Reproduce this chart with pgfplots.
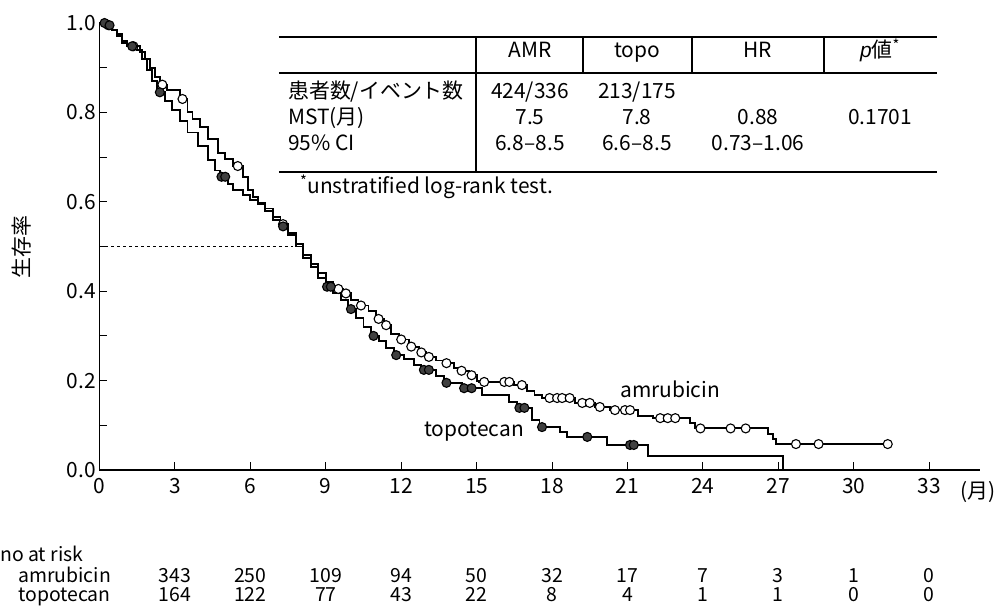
\documentclass[border=0pt]{standalone}
\usepackage{fontspec}
\setmainfont{Noto Sans CJK JP}
\newfontfamily\latinit{Liberation Sans}
\usepackage{pgfplots}
\pgfplotsset{compat=1.18}

\begin{document}
\begin{tikzpicture}[font=\fontsize{21}{24}\selectfont,
  t/.style={inner sep=0pt,text height=0.72em,text depth=0.18em},
  risk/.style={t,font=\fontsize{19.5}{22}\selectfont}]
\useasboundingbox (-99.5bp,-139bp) rectangle (897.5bp,470bp);
\begin{axis}[
  at={(0,0)}, anchor=south west,
  scale only axis, width=880bp, height=447bp,
  xmin=0, xmax=35, ymin=0, ymax=1,
  axis lines=left, axis line style={-, line width=1.3bp},
  xtick={0,3,...,33},
  ytick={0,0.2,0.4,0.6,0.8,1},
  minor ytick={0.1,0.3,0.5,0.7,0.9},
  tick align=inside, major tick length=8bp, minor tick length=8bp,
  tick style={black, line width=1bp},
  tick label style={font=\fontsize{21}{24}\selectfont},
  xticklabel style={yshift=-5bp},
  yticklabel style={/pgf/number format/.cd, fixed, fixed zerofill, precision=1},
  /pgf/number format/assume math mode=true,
  clip=false,
]
% median line
\addplot[black, dashed, line width=1bp] coordinates {(0,0.5) (7.7,0.5)};

% amrubicin
\addplot[const plot, black, line width=1.9bp] coordinates {
(0,1.0) (0.3,0.995) (0.5,0.985) (0.7,0.975) (0.9,0.96) (1.1,0.948) (1.6,0.935)
(1.8,0.92) (2.0,0.90) (2.2,0.88) (2.4,0.862) (2.7,0.85) (3.2,0.83) (3.5,0.80)
(3.7,0.785) (4.0,0.768) (4.3,0.74) (4.7,0.71) (5.0,0.695) (5.3,0.68) (5.7,0.655)
(5.9,0.627) (6.1,0.61) (6.3,0.598) (6.6,0.585) (6.9,0.565) (7.2,0.55) (7.5,0.53)
(7.8,0.505) (8.1,0.48) (8.4,0.46) (8.7,0.44) (9.0,0.42) (9.3,0.405) (9.7,0.395)
(10.0,0.38) (10.3,0.368) (10.7,0.355) (11.0,0.338) (11.3,0.324) (11.6,0.305)
(11.9,0.292) (12.3,0.276) (12.7,0.263) (13.0,0.253) (13.4,0.245) (13.7,0.239)
(14.1,0.228) (14.3,0.222) (14.7,0.212) (15.0,0.2) (15.1,0.197) (16.5,0.19)
(17.0,0.176) (17.3,0.168) (17.6,0.161) (18.9,0.15) (19.7,0.141) (20.3,0.134)
(21.4,0.121) (22.0,0.116) (23.5,0.105) (23.7,0.093) (26.6,0.08) (26.8,0.07)
(26.9,0.058) (31.35,0.058)
};
% topotecan
\addplot[const plot, black, line width=1.9bp] coordinates {
(0,1.0) (0.3,0.995) (0.5,0.985) (0.7,0.97) (0.9,0.955) (1.1,0.948) (1.5,0.94)
(1.7,0.92) (1.9,0.895) (2.1,0.87) (2.3,0.845) (2.6,0.825) (2.9,0.805) (3.2,0.78)
(3.5,0.755) (3.9,0.725) (4.3,0.694) (4.6,0.67) (4.8,0.656) (5.1,0.64) (5.3,0.627)
(5.7,0.615) (6.0,0.604) (6.3,0.595) (6.6,0.58) (6.9,0.56) (7.2,0.545) (7.5,0.525)
(7.8,0.50) (8.1,0.475) (8.4,0.455) (8.7,0.43) (9.0,0.41) (9.3,0.395) (9.6,0.38)
(9.9,0.36) (10.2,0.34) (10.5,0.32) (10.8,0.30) (11.1,0.288) (11.4,0.272)
(11.7,0.257) (12.1,0.248) (12.5,0.235) (12.8,0.224) (13.4,0.21) (13.7,0.195)
(14.4,0.183) (15.2,0.168) (16.3,0.152) (16.6,0.139) (17.2,0.112) (17.5,0.096)
(18.3,0.085) (18.6,0.074) (20.2,0.056) (21.8,0.031) (27.2,0.0)
};
% censored, amrubicin
\addplot[only marks, mark=*, mark size=4.5bp, mark options={fill=white, draw=black, line width=1.1bp}] coordinates {
(0.35,0.995) (1.35,0.948) (2.5,0.862) (3.3,0.83) (5.5,0.68) (7.3,0.55) (9.5,0.405)
(9.8,0.395) (10.4,0.368) (11.1,0.338) (11.4,0.324) (12.0,0.292) (12.4,0.276)
(12.8,0.263) (13.1,0.253) (13.8,0.239) (14.4,0.222) (14.8,0.212) (15.3,0.197)
(16.1,0.197) (16.3,0.197) (16.8,0.19) (17.9,0.161) (18.2,0.161) (18.4,0.161)
(18.7,0.161) (19.2,0.15) (19.5,0.15) (19.9,0.141) (20.5,0.134) (20.9,0.134)
(21.1,0.134) (22.3,0.116) (22.6,0.116) (22.9,0.116) (23.9,0.093) (25.1,0.093)
(25.7,0.093) (27.7,0.058) (28.6,0.058) (31.35,0.058)
};
% censored, topotecan
\addplot[only marks, mark=*, mark size=4.5bp, mark options={fill=black!75, draw=black, line width=1.1bp}] coordinates {
(0.2,1.0) (0.4,0.995) (1.3,0.948) (2.4,0.845) (4.85,0.656) (5.0,0.656) (7.3,0.545)
(9.05,0.41) (9.2,0.41) (10.0,0.36) (10.9,0.30) (11.8,0.257) (12.9,0.224)
(13.1,0.224) (13.8,0.195) (14.5,0.183) (14.8,0.183) (16.7,0.139) (16.9,0.139)
(17.6,0.096) (19.4,0.074) (21.1,0.056) (21.25,0.056)
};

% number at risk
\addplot[draw=none, nodes near coords, point meta=explicit symbolic,
  nodes near coords style={risk, anchor=center}]
  table[meta=n] {
x y n
3 -0.2461 343
6 -0.2461 250
9 -0.2461 109
12 -0.2461 94
15 -0.2461 50
18 -0.2461 32
21 -0.2461 17
24 -0.2461 7
27 -0.2461 3
30 -0.2461 1
33 -0.2461 0
3 -0.2886 164
6 -0.2886 122
9 -0.2886 77
12 -0.2886 43
15 -0.2886 22
18 -0.2886 8
21 -0.2886 4
24 -0.2886 1
27 -0.2886 1
30 -0.2886 0
33 -0.2886 0
};

\node at (axis cs:22.7,0.18) {amrubicin};
\node at (axis cs:14.9,0.085) {topotecan};
\end{axis}

\begin{scope}[x=1bp,y=1bp,shift={(-99.5bp,-139bp)}]
% axis titles
\node[rotate=90] at (22,362) {生存率};
\node at (978,117) {(月)};

% risk table labels
\node[anchor=west,risk] at (0,50) {no at risk};
\node[anchor=west,risk] at (18,29) {amrubicin};
\node[anchor=west,risk] at (18,10) {topotecan};

% summary table
\draw[line width=1.2bp] (279,572) -- (937,572);
\draw[line width=1.2bp] (279,536) -- (937,536);
\draw[line width=1.2bp] (279,437) -- (937,437);
\draw[line width=1.1bp] (476,572) -- (476,437);
\draw[line width=1.1bp] (583,572) -- (583,536);
\draw[line width=1.1bp] (692,572) -- (692,536);
\draw[line width=1.1bp] (824,572) -- (824,536);

\node[t] at (530,554) {AMR};
\node[t] at (637,554) {topo};
\node[t] at (758,554) {HR};
\node[t] at (880,554) {{\latinit\itshape p}値\textsuperscript{*}};

\node[t,anchor=west] at (288,513) {患者数/イベント数};
\node[t] at (530,513) {424/336};
\node[t] at (637,513) {213/175};

\node[t,anchor=west] at (288,487) {MST(月)};
\node[t] at (530,487) {7.5};
\node[t] at (637,487) {7.8};
\node[t] at (758,487) {0.88};
\node[t] at (880,487) {0.1701};

\node[t,anchor=west] at (288,461) {95\% CI};
\node[t] at (530,461) {6.8--8.5};
\node[t] at (637,461) {6.6--8.5};
\node[t] at (758,461) {0.73--1.06};

\node[t,anchor=west] at (300,418) {\textsuperscript{*}unstratified log-rank test.};
\end{scope}
\end{tikzpicture}
\end{document}
